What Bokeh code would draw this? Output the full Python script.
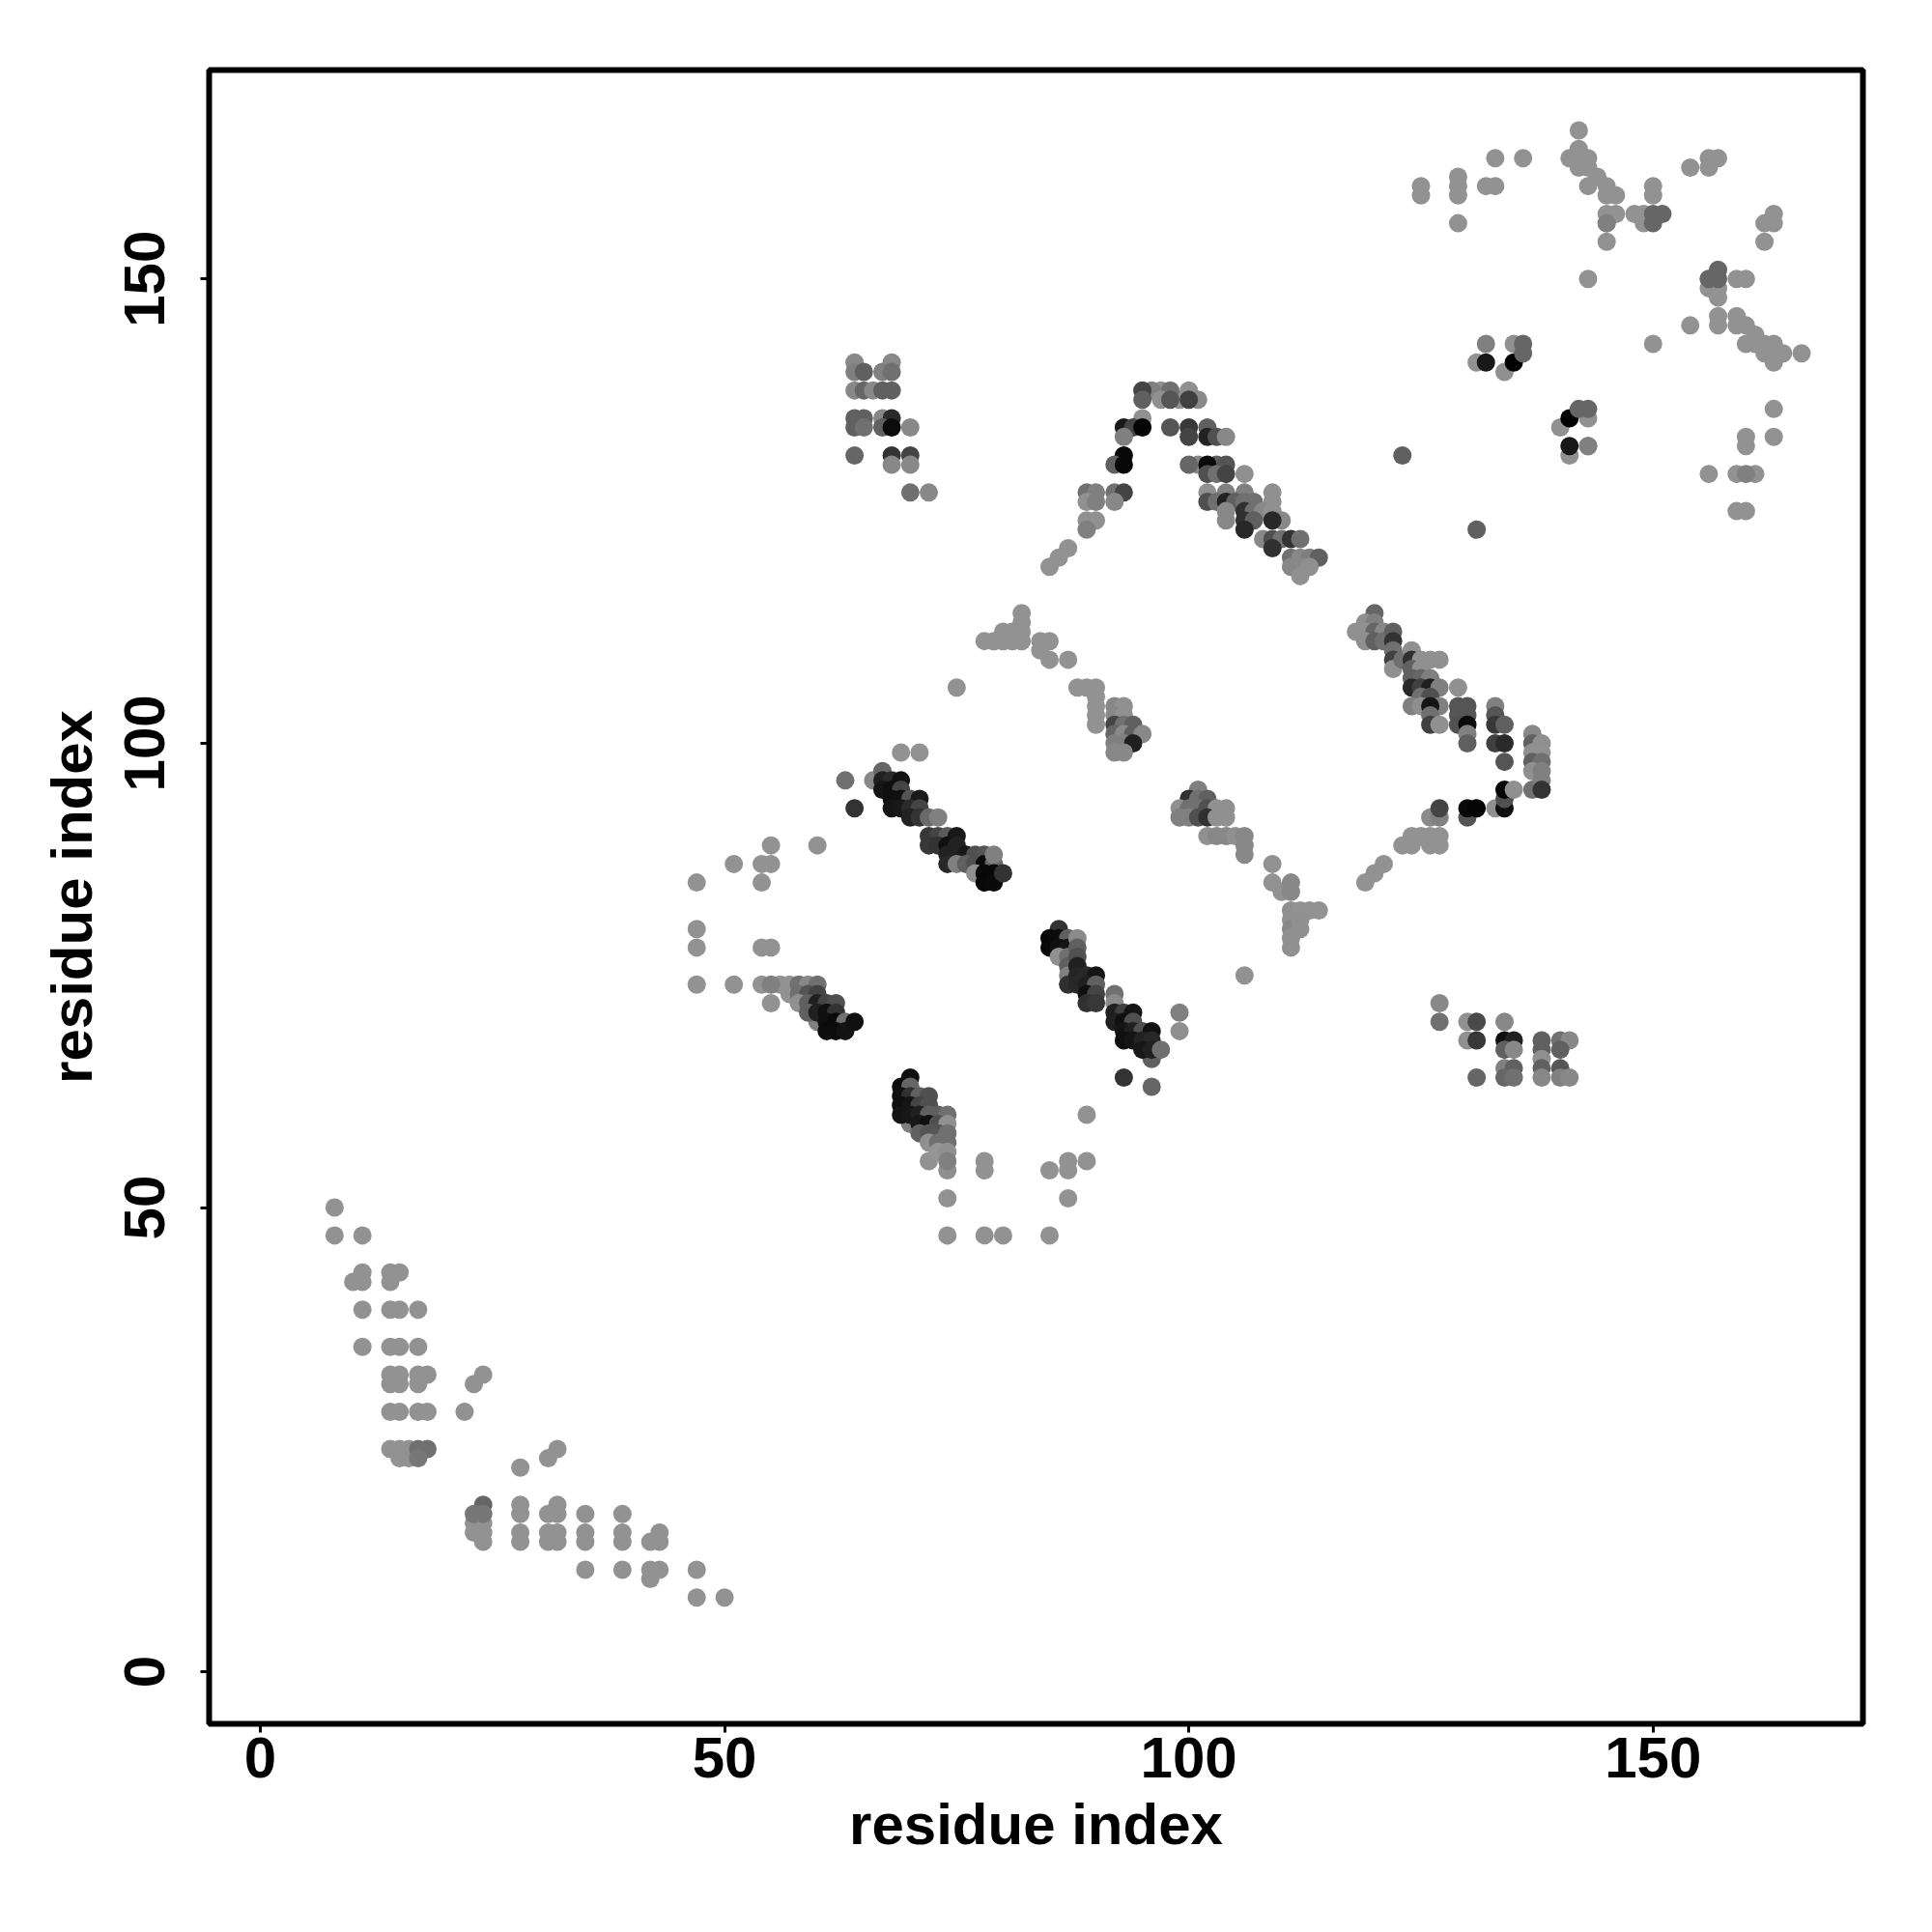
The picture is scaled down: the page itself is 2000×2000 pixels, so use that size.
from bokeh.plotting import figure
from bokeh.embed import file_html
from bokeh.resources import INLINE
from bokeh.models import FixedTicker, Range1d

tick_values = [0, 50, 100, 150]
x_title = "residue index"
y_title = "residue index"

# ---- lower left band (light)
low_x = [8,8,11, 11,10,11,14,15,14, 11,14,15,17, 11,14,15,17, 14,15,17,18, 14,15,17, 23,24, 14,15,17,18, 22, 14,15,16, 15,16, 28,31,32,
         23,24,23,24,24, 28,28,28,28, 32,31,32,31,32,31,32, 35,35,35,35, 39,39,39,39, 43,42,43,42,43,42, 47,47,50]
low_y = [50,47,47, 43,42,42,43,43,42, 39,39,39,39, 35,35,35,35, 32,32,32,32, 31,31,31, 31,32, 28,28,28,28, 28, 24,24,24, 23,23, 22,23,24,
         16,16,15,15,14, 18,17,15,14, 18,17,17,15,15,14,14, 17,15,14,11, 17,15,14,11, 15,14,14,11,11,10, 11,8,8]
low_g = [0x92] * len(low_x)

lowdark_x = [24,23,24,17,18,17]
lowdark_y = [18,17,17,24,24,23]
lowdark_g = [0x66,0x77,0x77,0x70,0x70,0x77]

# ---- isolated light points
iso_x = [69,71,55,60,51,54,55,47,54,47,47,54,55,47,51,54,56,57,57,55,72,74,87,74,78,80,85,78,78,85,87,87,89,89,106,109,109,110,75,
         124,125,126,127,126,127,123,124,119,120,121,
         87,86,85,84,85,87,78,79,80,81,82,82,82,80,81,82,84,85,88,89,90,90,90,90,90]
iso_y = [99,99,89,89,87,87,87,85,85,80,78,78,78,74,74,74,74,74,73,72,55,51,51,47,47,47,47,55,54,54,55,54,55,60,75,87,85,84,106,
         90,90,90,90,89,89,89,89,85,86,87,
         121,120,119,111,109,109,111,111,111,111,111,114,113,112,112,112,110,111,106,106,106,105,104,103,102]
iso_g = [0x92] * len(iso_x)

# ---- x 55-64, y 69-74
c1_x = [55,58,59,60,58,59,60,58,59,60,61,62,60,59,60,61,62,61,62,63,61,62,63,64]
c1_y = [74,74,74,74,73,73,73,72,72,72,72,72,70,71,71,71,71,70,70,70,69,69,69,70]
c1_g = [0x80,0x70,0x88,0x70,0x70,0x55,0x44,0x90,0x60,0x20,0x44,0x50,0x80,0x60,0x20,0x10,0x33,0x10,0x0a,0x70,0x0c,0x0c,0x14,0x10]

# ---- x 63-80, y 85-97
c2_x = [66,63,64,67,67,68,69,67,68,69,68,69,70,71,68,69,70,71,70,71,72,73,72,73,74,75,72,73,74,75,74,75,76,77,78,74,75,76,77,78,79,79,77,78,79,78,79,80]
c2_y = [96,96,93,97,96,96,96,95,95,95,94,94,94,94,93,93,93,93,92,92,92,92,90,90,90,90,89,89,89,89,88,88,88,88,88,87,87,87,87,87,87,88,86,86,86,85,85,86]
c2_g = [0x88,0x70,0x33,0x66,0x20,0x2a,0x11,0x15,0x10,0x44,0x10,0x11,0x55,0x1a,0x15,0x18,0x2a,0x44,0x22,0x33,0x6a,0x80,0x38,0x44,0x5a,0x18,0x38,0x33,0x10,0x22,0x22,0x22,0x18,0x50,0x55,0x28,0x80,0x60,0x50,0x0a,0x66,0x80,0x8f,0x08,0x08,0x08,0x0a,0x33]

# ---- x 85-99, y 63-80
c3_x = [86,85,86,87,85,86,87,86,87,87,87,87,88,88,88,88,88,88,89,90,89,90,89,90,89,90,92,92,92,93,94,92,93,94,93,94,95,96,93,94,95,96,96,95,96,97,93,96,99,99]
c3_y = [80,79,79,79,78,78,78,77,77,76,75,74,79,78,77,76,75,74,75,75,74,74,73,73,72,72,73,72,71,71,71,70,70,70,69,69,69,69,68,68,68,68,66,67,67,67,64,63,71,69]
c3_g = [0x33,0x08,0x0c,0x60,0x08,0x10,0x15,0x90,0x70,0x60,0x80,0x30,0x8a,0x60,0x50,0x20,0x25,0x28,0x28,0x15,0x20,0x60,0x10,0x44,0x30,0x38,0x70,0x8a,0x20,0x40,0x15,0x20,0x10,0x50,0x15,0x20,0x50,0x12,0x10,0x15,0x22,0x28,0x60,0x18,0x20,0x70,0x33,0x66,0x80,0x8f]

# ---- x 69-74, y 54-64
c4_x = [70,69,70,69,70,71,72,69,70,71,72,70,69,70,71,72,73,74,71,72,73,74,71,72,73,74,72,73,74,73,74,74]
c4_y = [64,63,63,62,62,62,62,61,61,61,61,59,60,60,60,60,60,60,59,59,59,59,58,58,58,58,57,57,57,56,56,54]
c4_g = [0x10,0x0c,0x66,0x10,0x30,0x60,0x50,0x0e,0x14,0x44,0x50,0x80,0x14,0x18,0x20,0x60,0x60,0x70,0x18,0x10,0x50,0x90,0x60,0x55,0x55,0x70,0x90,0x70,0x70,0x95,0x90,0x8f]
c4b_x = [74]
c4b_y = [55]
c4b_g = [0x80]

# ---- x 92-95, y 99-104
c5_x = [92,93,92,93,92,93,94,92,93,94,95,92,93,94,92,93]
c5_y = [104,104,103,103,102,102,102,101,101,101,101,100,100,100,99,99]
c5_g = [0x88,0x90,0x88,0x90,0x44,0x70,0x60,0x66,0x88,0x60,0x88,0x80,0x80,0x20,0x88,0x88]

# ---- x 99-114, y 78-95
c6_x = [101,100,101,102,99,100,101,102,103,104,99,100,101,102,103,104,102,103,104,105,106,106,106,111,111,111,111,111,111,111,112,113,114,112,112]
c6_y = [95,94,94,94,93,93,93,93,93,93,92,92,92,92,92,92,90,90,90,90,90,89,88,85,84,82,81,80,79,78,82,82,82,81,80]
c6_g = [0x80,0x30,0x70,0x60,0x90,0x70,0x70,0x50,0x90,0x90,0x80,0x80,0x50,0x30,0x90,0x90,0x90,0x88,0x88,0x90,0x88,0x88,0x88,0x88,0x88,0x90,0x90,0x88,0x90,0x90,0x92,0x92,0x92,0x90,0x90]

# ---- x 118-138, y 92-114
c7_x = [120,119,120,118,119,120,121,119,120,121,122,122,122,122,122,123,124,124,125,126,127,124,125,124,125,126,124,125,126,127,129,125,126,124,125,127,126,126,126,127,129,130,129,130,129,130,130,130,133,133,133,134,133,134,134,137,137,138,137,138,137,138,137,138,137,138,138]
c7_y = [114,113,113,112,112,112,112,111,111,111,112,111,110,109,108,109,110,109,109,109,109,108,108,107,107,107,106,106,106,106,106,105,105,104,104,104,104,103,102,102,104,104,103,103,102,102,101,100,104,103,102,102,100,100,98,101,100,100,99,99,98,98,97,97,95,96,95]
c7_g = [0x66,0x8f,0x80,0x90,0x90,0x66,0x88,0x8f,0x60,0x70,0x60,0x33,0x70,0x40,0x90,0x70,0x90,0x30,0x90,0x90,0x90,0x60,0x90,0x60,0x66,0x80,0x28,0x40,0x20,0x80,0x90,0x70,0x50,0x80,0x8f,0x80,0x15,0x70,0x40,0x90,0x55,0x55,0x55,0x55,0x50,0x0a,0x80,0x60,0x80,0x55,0x38,0x60,0x40,0x2a,0x55,0x88,0x60,0x8f,0x90,0x90,0x60,0x70,0x8f,0x80,0x70,0x80,0x33]

# ---- x 126-135, y 92-95 bridge
c8_x = [130,130,131,133,134,134,134,135,126,127,127]
c8_y = [92,93,93,93,93,94,95,95,92,92,93]
c8_g = [0x55,0x0a,0x05,0x90,0x10,0x50,0x05,0x90,0x8a,0x80,0x44]

# ---- x 85-114, y 118-138 arch
c9_x = [97,99,96,100,98,95,101,95,97,98,100,95,93,94,95,98,100,102,93,100,102,103,104,93,92,93,101,100,103,104,102,102,103,104,106,89,90,92,93,102,104,106,109,89,90,92,102,103,104,105,106,107,109,104,106,107,108,109,89,90,104,106,107,110,109,89,106,108,109,110,111,112,109,111,112,113,114,111,112,113,112]
c9_y = [138,137,138,138,138,138,137,137,137,137,137,135,134,134,134,134,134,134,133,133,133,133,133,131,130,130,130,130,130,130,130,129,129,129,129,127,127,127,127,127,127,127,127,126,126,126,126,126,126,126,126,126,126,125,125,125,125,125,124,124,124,124,124,124,124,123,123,122,122,122,122,122,121,120,120,120,120,119,119,119,118]
c9_g = [0x8f,0x8f,0x80,0x90,0x70,0x44,0x8a,0x60,0x90,0x55,0x40,0x90,0x18,0x44,0x05,0x55,0x38,0x60,0x80,0x44,0x22,0x50,0x88,0x08,0x60,0x08,0x88,0x66,0x60,0x55,0x0a,0x50,0x70,0x44,0x90,0x70,0x80,0x70,0x44,0x90,0x80,0x80,0x90,0x90,0x80,0x88,0x50,0x70,0x22,0x60,0x70,0x70,0x90,0x88,0x30,0x70,0x88,0x90,0x90,0x90,0x88,0x30,0x60,0x88,0x28,0x80,0x28,0x88,0x50,0x70,0x33,0x70,0x30,0x70,0x88,0x80,0x60,0x88,0x88,0x90,0x90]

# ---- x 64-72, y 127-141
c10_x = [64,68,64,65,67,68,64,65,66,67,68,64,65,67,68,64,65,67,68,70,64,68,70,68,70,70,72]
c10_y = [141,141,140,140,140,140,138,138,138,138,138,135,135,135,135,134,134,134,134,134,131,131,131,130,130,127,127]
c10_g = [0x88,0x88,0x80,0x60,0x80,0x70,0x88,0x66,0x88,0x60,0x60,0x60,0x60,0x88,0x2a,0x60,0x70,0x60,0x0c,0x88,0x66,0x33,0x44,0x88,0x88,0x70,0x88]

# ---- x 127-141, y 64-72
c11_x = [127,127,130,131,134,130,131,134,135,138,140,141,134,135,138,140,138,134,135,138,140,131,134,135,138,140,141]
c11_y = [72,70,70,70,70,68,68,68,68,68,68,68,67,67,67,67,66,65,65,65,65,64,64,64,64,64,64]
c11_g = [0x88,0x70,0x90,0x4a,0x88,0x90,0x38,0x10,0x22,0x60,0x70,0x88,0x60,0x88,0x60,0x60,0x90,0x80,0x60,0x60,0x55,0x66,0x66,0x70,0x88,0x80,0x88]

# ---- upper right
ur_x = [142,142,141,142,143,142,143,144,143,145,145,146,145,146,145,145,148,149,149,150,150,133,136,132,133,129,129,129,129,125,125,156,157,154,156,163,162,163,162,143,
        159,160,154,157,159,159,160,161,160,161,162,163,162,163,164,166,163,150,163,163,160,160,156,159,161,159,160,157,156,157,157]
ur_y = [166,164,163,163,163,162,162,161,160,160,159,159,157,157,156,154,157,157,156,160,159,163,163,160,160,161,160,159,156,160,159,163,163,162,162,157,156,156,154,150,
        150,150,145,146,146,145,145,144,143,143,143,143,142,142,142,142,141,143,136,133,133,132,129,129,129,125,125,149,149,148,145]
ur_g = [0x92] * len(ur_x)

# ---- upper right, darker and mixed points
um_x = [150,151,150,156,157,156,157,160,145,131,132,132,134,135,136,135,136,140,141,143,142,143,141,141,143,143,123,131]
um_y = [157,157,156,150,151,150,150,129,156,141,143,141,140,143,143,141,142,134,135,135,136,136,131,132,132,132,131,123]
um_g = [0x66,0x66,0x66,0x92,0x66,0x66,0x66,0x80,0x80,0x92,0x80,0x18,0x90,0x90,0x66,0x02,0x66,0x90,0x02,0x90,0x66,0x66,0x90,0x18,0x80,0x80,0x60,0x60]

groups = [(low_x, low_y, low_g), (lowdark_x, lowdark_y, lowdark_g), (iso_x, iso_y, iso_g),
          (c1_x, c1_y, c1_g), (c2_x, c2_y, c2_g), (c3_x, c3_y, c3_g), (c4_x, c4_y, c4_g), (c4b_x, c4b_y, c4b_g),
          (c5_x, c5_y, c5_g), (c6_x, c6_y, c6_g), (c7_x, c7_y, c7_g), (c8_x, c8_y, c8_g), (c9_x, c9_y, c9_g),
          (c10_x, c10_y, c10_g), (c11_x, c11_y, c11_g), (ur_x, ur_y, ur_g), (um_x, um_y, um_g)]

xs, ys, cols = [], [], []
for i, (gx, gy, gg) in enumerate(groups):
    assert len(gx) == len(gy) == len(gg), (i, len(gx), len(gy), len(gg))
    xs += gx
    ys += gy
    cols += ["#%02x%02x%02x" % (v, v, v) for v in gg]

p = figure(width=1984, height=1984, output_backend="svg", toolbar_location=None,
           x_range=Range1d(-5.51, 172.6), y_range=Range1d(-5.6, 172.5),
           frame_width=1712, frame_height=1712,
           min_border_left=216, min_border_right=56, min_border_top=72, min_border_bottom=200,
           background_fill_color="white", border_fill_color="white")
p.grid.visible = False
p.outline_line_color = "black"
p.outline_line_width = 6

p.scatter(xs, ys, size=19, marker="circle", fill_color=cols, line_color=None)

for ax, title in ((p.xaxis[0], x_title), (p.yaxis[0], y_title)):
    ax.ticker = FixedTicker(ticks=tick_values)
    ax.axis_line_color = None
    ax.major_tick_in = 0
    ax.major_tick_out = 9
    ax.major_tick_line_width = 3
    ax.major_tick_line_color = "black"
    ax.minor_tick_line_color = None
    ax.major_label_text_font = "Liberation Sans"
    ax.major_label_text_font_style = "bold"
    ax.major_label_text_font_size = "60px"
    ax.major_label_text_color = "black"
    ax.axis_label = title
    ax.axis_label_text_font = "Liberation Sans"
    ax.axis_label_text_font_style = "bold"
    ax.axis_label_text_font_size = "60px"
    ax.axis_label_text_color = "black"
p.xaxis[0].major_label_standoff = 5
p.xaxis[0].axis_label_standoff = 12
p.yaxis[0].major_label_orientation = "vertical"
p.yaxis[0].major_label_standoff = 37
p.yaxis[0].axis_label_standoff = 19

open("out.html", "w").write(file_html(p, INLINE))
